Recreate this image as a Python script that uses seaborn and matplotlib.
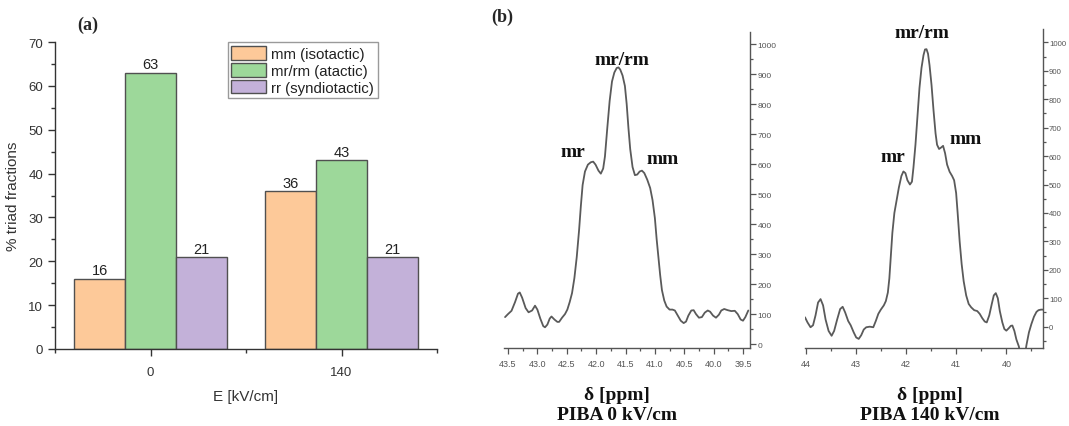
import numpy as np
import pandas as pd
import matplotlib
matplotlib.use("Agg")
import matplotlib.pyplot as plt
from matplotlib.ticker import MultipleLocator, FormatStrFormatter
import seaborn as sns

# ---- (a) triad fractions ----
fields = ["0", "140"]
triads = ["mm (isotactic)", "mr/rm (atactic)", "rr (syndiotactic)"]
mm_vals = [16, 36]
mrrm_vals = [63, 43]
rr_vals = [21, 21]
bar_colors = ["#FDC999", "#9DD89A", "#C3B1D9"]

# ---- (b) 13C NMR spectra, PIBA ----
shift_0kv = [43.55, 43.50, 43.44, 43.38, 43.33, 43.30, 43.26, 43.20, 43.15, 43.09,
             43.04, 43.00, 42.95, 42.90, 42.87, 42.83, 42.79, 42.76, 42.71, 42.66,
             42.63, 42.58, 42.53, 42.49, 42.45, 42.41, 42.37, 42.33, 42.29, 42.26,
             42.23, 42.19, 42.14, 42.09, 42.05, 42.01, 41.96, 41.92, 41.88, 41.85,
             41.81, 41.77, 41.73, 41.69, 41.65, 41.62, 41.59, 41.55, 41.51, 41.48,
             41.45, 41.42, 41.38, 41.34, 41.30, 41.26, 41.22, 41.18, 41.13, 41.08,
             41.04, 41.00, 40.97, 40.94, 40.91, 40.88, 40.84, 40.80, 40.75, 40.70,
             40.66, 40.61, 40.56, 40.51, 40.47, 40.43, 40.38, 40.34, 40.30, 40.25,
             40.20, 40.15, 40.10, 40.06, 40.01, 39.96, 39.91, 39.87, 39.82, 39.76,
             39.70, 39.64, 39.59, 39.54, 39.50, 39.46, 39.41]
inten_0kv = [90, 100, 111, 140, 168, 172, 155, 120, 106, 112,
             128, 115, 85, 60, 56, 65, 85, 92, 82, 74,
             74, 88, 100, 115, 140, 170, 220, 290, 380, 460,
             530, 575, 598, 606, 608, 598, 578, 568, 585, 625,
             720, 810, 875, 905, 920, 922, 915, 895, 860, 800,
             720, 650, 590, 563, 565, 575, 578, 570, 548, 520,
             480, 420, 350, 290, 230, 180, 145, 125, 115, 115,
             112, 95, 78, 70, 75, 95, 112, 113, 100, 88,
             90, 105, 112, 108, 95, 88, 98, 112, 117, 113,
             110, 111, 100, 82, 78, 90, 112]

shift_140kv = [44.01, 43.96, 43.90, 43.85, 43.80, 43.75, 43.70, 43.65, 43.60, 43.54,
               43.48, 43.43, 43.37, 43.31, 43.26, 43.21, 43.15, 43.10, 43.04, 42.99,
               42.94, 42.89, 42.84, 42.79, 42.72, 42.65, 42.60, 42.55, 42.50, 42.44,
               42.40, 42.36, 42.33, 42.30, 42.27, 42.23, 42.19, 42.14, 42.09, 42.05,
               42.01, 41.97, 41.92, 41.88, 41.85, 41.81, 41.77, 41.73, 41.69, 41.65,
               41.62, 41.59, 41.56, 41.53, 41.49, 41.45, 41.41, 41.38, 41.34, 41.30,
               41.26, 41.22, 41.18, 41.13, 41.08, 41.04, 41.00, 40.97, 40.93, 40.89,
               40.85, 40.80, 40.75, 40.70, 40.64, 40.58, 40.53, 40.48, 40.43, 40.39,
               40.34, 40.29, 40.25, 40.21, 40.17, 40.13, 40.08, 40.04, 40.00, 39.95,
               39.91, 39.88, 39.84, 39.80, 39.75, 39.71, 39.68, 39.64, 39.60, 39.55,
               39.50, 39.45, 39.40, 39.36, 39.31, 39.27]
inten_140kv = [33, 15, -2, 5, 40, 85, 97, 75, 25, -15,
               -32, -15, 25, 62, 70, 50, 20, 5, -20, -38,
               -43, -30, -10, -2, 0, -2, 20, 45, 60, 75,
               90, 120, 170, 250, 330, 400, 440, 490, 530, 546,
               540, 515, 500, 510, 560, 640, 740, 840, 910, 955,
               975, 976, 960, 920, 850, 760, 680, 640, 625, 630,
               636, 610, 570, 545, 530, 515, 470, 400, 300, 220,
               160, 110, 80, 68, 58, 55, 45, 30, 18, 15,
               40, 80, 110, 118, 100, 55, 15, -8, -14, -5,
               3, 4, -15, -45, -70, -110, -130, -110, -65, -20,
               10, 35, 52, 58, 60, 60]

W, H = 1069, 427
fig = plt.figure(figsize=(W / 100, H / 100), dpi=100)
sns.set_style("ticks")
plt.rcParams["font.family"] = ["Liberation Sans", "DejaVu Sans"]


def fig_rect(left, top, right, bottom):
    return [left / W, 1 - bottom / H, (right - left) / W, (bottom - top) / H]


# ================= panel (a) =================
ax = fig.add_axes(fig_rect(55, 43, 437, 350))
df = pd.DataFrame({
    "E": fields * 3,
    "triad": [triads[0]] * 2 + [triads[1]] * 2 + [triads[2]] * 2,
    "value": mm_vals + mrrm_vals + rr_vals,
})
sns.barplot(data=df, x="E", y="value", hue="triad", hue_order=triads,
            palette=bar_colors, saturation=1, width=0.8, edgecolor="#505050",
            linewidth=1.0, ax=ax)
for cont in ax.containers:
    ax.bar_label(cont, fmt="%d", padding=1, fontsize=10.5, color="#222222")

ax.set_xlim(-0.5, 1.5)
ax.set_ylim(0, 70)
ax.yaxis.set_major_locator(MultipleLocator(10))
ax.yaxis.set_minor_locator(MultipleLocator(5))
ax.xaxis.set_minor_locator(MultipleLocator(0.5))
ax.tick_params(axis="both", which="major", length=5, width=1, color="#333333",
               labelsize=9.5, labelcolor="#333333", direction="out")
ax.tick_params(axis="both", which="minor", length=3, width=1, color="#333333")
ax.tick_params(axis="x", which="major", pad=7)
for side in ("top", "right"):
    ax.spines[side].set_visible(False)
for side in ("left", "bottom"):
    ax.spines[side].set_color("#333333")
    ax.spines[side].set_linewidth(1.0)
ax.set_xlabel("E [kV/cm]", fontsize=11, color="#333333", labelpad=8)
ax.set_ylabel("% triad fractions", fontsize=11, color="#333333", labelpad=6)

handles, labels = ax.get_legend_handles_labels()
leg = ax.legend(handles, labels, loc="upper right", bbox_to_anchor=(0.845, 1.0),
                fontsize=10.8, frameon=True, fancybox=False, edgecolor="#9a9a9a",
                framealpha=1, borderpad=0.25, labelspacing=0.12,
                handlelength=2.3, handleheight=1.05, handletextpad=0.35,
                borderaxespad=0)
leg.get_frame().set_linewidth(1.0)
for t in leg.get_texts():
    t.set_color("#222222")

fig.text(88 / W, 1 - 25 / H, "(a)", fontsize=13, fontweight="bold",
         family="Liberation Serif", ha="center", va="center")
fig.text(502 / W, 1 - 17 / H, "(b)", fontsize=13, fontweight="bold",
         family="Liberation Serif", ha="center", va="center")


# ================= panel (b) =================
def style_spectrum(a, major_x, minor_x, fmt, ylab=6.0, ypad=1.5, ylen=4):
    a.invert_xaxis()
    a.xaxis.set_major_locator(MultipleLocator(major_x))
    a.xaxis.set_minor_locator(MultipleLocator(minor_x))
    a.xaxis.set_major_formatter(FormatStrFormatter(fmt))
    a.yaxis.set_major_locator(MultipleLocator(100))
    a.yaxis.set_minor_locator(MultipleLocator(50))
    a.yaxis.tick_right()
    for side in ("top", "left"):
        a.spines[side].set_visible(False)
    for side in ("right", "bottom"):
        a.spines[side].set_color("#555555")
        a.spines[side].set_linewidth(1.0)
    a.tick_params(axis="both", which="major", width=0.9, color="#555555",
                  labelcolor="#555555", direction="out")
    a.tick_params(axis="x", which="major", length=4, labelsize=6.5, pad=4)
    a.tick_params(axis="y", which="major", length=ylen, labelsize=ylab, pad=ypad)
    a.tick_params(axis="both", which="minor", length=2, width=0.9, color="#555555")
    a.set_xlabel("")
    a.set_ylabel("")
    a.grid(False)


serif = dict(family="Liberation Serif", fontweight="bold", fontsize=14,
             ha="center", va="center", color="#111111")
line_kw = dict(sort=False, color="#5a5a5a", linewidth=1.3)

# PIBA 0 kV/cm
ax1 = fig.add_axes(fig_rect(504, 33, 750, 349))
sns.lineplot(x=shift_0kv, y=inten_0kv, ax=ax1, **line_kw)
ax1.set_ylim(-13, 1040)
style_spectrum(ax1, 0.5, 0.25, "%.1f")
ax1.set_xlim(43.568, 39.381)
ax1.text(41.56, 950, "mr/rm", **serif)
ax1.text(42.39, 643, "mr", **serif)
ax1.text(40.86, 617, "mm", **serif)

# PIBA 140 kV/cm
ax2 = fig.add_axes(fig_rect(805, 30, 1043, 349))
sns.lineplot(x=shift_140kv, y=inten_140kv, ax=ax2, **line_kw)
ax2.set_ylim(-75, 1047)
style_spectrum(ax2, 1.0, 0.5, "%d", ylab=5.6, ypad=0.8, ylen=3.5)
ax2.set_xlim(44.01, 39.27)
ax2.text(41.69, 1033, "mr/rm", **serif)
ax2.text(42.26, 597, "mr", **serif)
ax2.text(40.81, 663, "mm", **serif)

for cx, lab in ((617, "PIBA 0 kV/cm"), (930, "PIBA 140 kV/cm")):
    fig.text(cx / W, 1 - 396 / H, "\u03b4 [ppm]", **serif)
    fig.text(cx / W, 1 - 416 / H, lab, **serif)

fig.savefig("out.png", dpi=100, facecolor="white")
